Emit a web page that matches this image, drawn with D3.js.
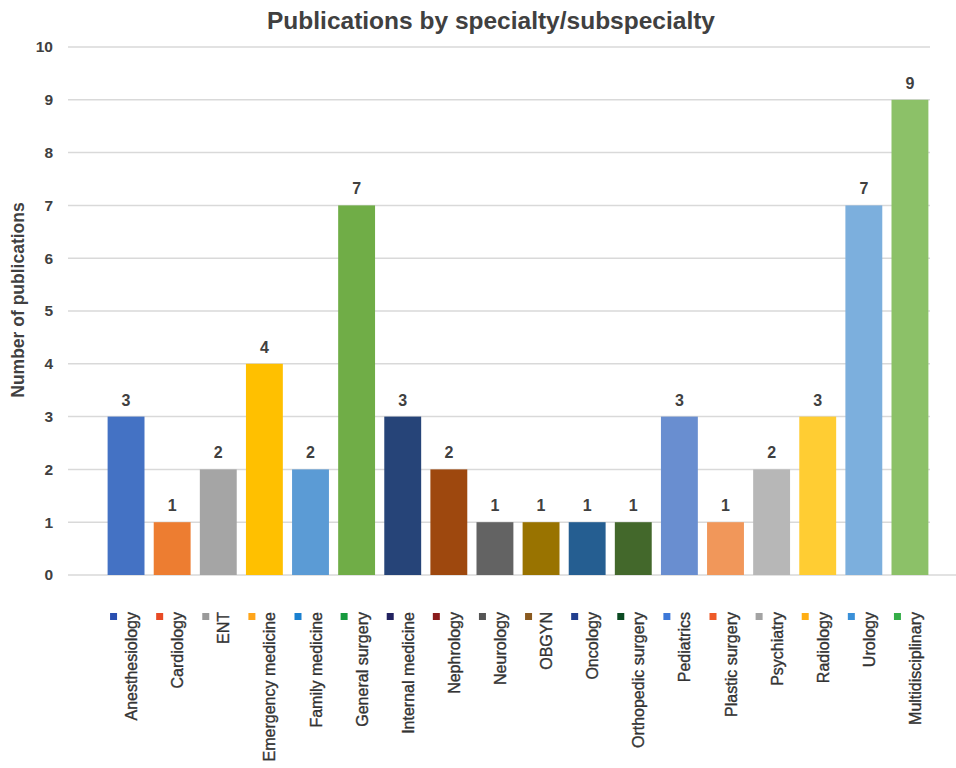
<!DOCTYPE html>
<html>
<head>
<meta charset="utf-8">
<script src="https://cdn.jsdelivr.net/npm/d3@7"></script>
<style>
  html, body { margin: 0; padding: 0; background: #ffffff; }
  svg { display: block; font-family: "Liberation Sans", Arial, Helvetica, sans-serif; }
</style>
</head>
<body>
<svg id="chart" width="956" height="768"></svg>
<script>
// Publications per specialty / subspecialty
const categories = [
  "Anesthesiology", "Cardiology", "ENT", "Emergency medicine", "Family medicine",
  "General surgery", "Internal medicine", "Nephrology", "Neurology", "OBGYN",
  "Oncology", "Orthopedic surgery", "Pediatrics", "Plastic surgery", "Psychiatry",
  "Radiology", "Urology", "Multidisciplinary"
];
const values = [3, 1, 2, 4, 2, 7, 3, 2, 1, 1, 1, 1, 3, 1, 2, 3, 7, 9];
const barColors = [
  "#4472C4", "#ED7D31", "#A5A5A5", "#FFC000", "#5B9BD5", "#70AD47",
  "#264478", "#9E480E", "#636363", "#997300", "#255E91", "#43682B",
  "#698ED0", "#F1975A", "#B7B7B7", "#FFCD33", "#7CAFDD", "#8CC168"
];
const legendColors = [
  "#2A4FB0", "#E84A25", "#9A9A9A", "#FFA51A", "#1A80D0", "#169A3E",
  "#222260", "#8A1C1C", "#555555", "#8A5A20", "#213F8E", "#0B4A22",
  "#3D78D8", "#EE5A28", "#A3A3A3", "#FFAE14", "#3A90D8", "#35AE48"
];
const yTicks = [0, 1, 2, 3, 4, 5, 6, 7, 8, 9, 10];
const titleText = "Publications by specialty/subspecialty";
const yAxisTitle = "Number of publications";

const svg = d3.select("#chart");

const x = d3.scaleBand()
  .domain(categories)
  .range([103, 933])
  .paddingInner(0.2)
  .paddingOuter(0.1);

const y = d3.scaleLinear().domain([0, 10]).range([575, 47]);

// Horizontal gridlines
svg.append("g")
  .selectAll("line")
  .data(yTicks)
  .join("line")
  .attr("x1", 68)
  .attr("x2", d => d === 0 ? 956 : 930)
  .attr("y1", d => y(d))
  .attr("y2", d => y(d))
  .attr("stroke", "#d9d9d9")
  .attr("stroke-width", 1.5);

// Y axis tick labels (axis line and ticks hidden)
const yAxis = d3.axisLeft(y).tickValues(yTicks).tickSize(0).tickPadding(0);
const yg = svg.append("g").attr("transform", "translate(53,0)").call(yAxis);
yg.select(".domain").remove();
yg.selectAll("text")
  .attr("font-size", 15.5)
  .attr("font-weight", "bold")
  .attr("fill", "#404040")
  .attr("font-family", "'Liberation Sans', Arial, sans-serif");

// Bars
svg.append("g")
  .selectAll("rect")
  .data(categories)
  .join("rect")
  .attr("x", d => x(d))
  .attr("y", (d, i) => y(values[i]))
  .attr("width", x.bandwidth())
  .attr("height", (d, i) => y(0) - y(values[i]))
  .attr("fill", (d, i) => barColors[i]);

// Value labels
svg.append("g")
  .selectAll("text")
  .data(categories)
  .join("text")
  .attr("x", d => x(d) + x.bandwidth() / 2)
  .attr("y", (d, i) => y(values[i]) - 11)
  .attr("text-anchor", "middle")
  .attr("font-size", 16)
  .attr("font-weight", "bold")
  .attr("fill", "#404040")
  .text((d, i) => values[i]);

// Title
svg.append("text")
  .attr("x", 491)
  .attr("y", 29)
  .attr("text-anchor", "middle")
  .attr("font-size", 24.5)
  .attr("font-weight", "bold")
  .attr("fill", "#404040")
  .text(titleText);

// Y axis title
svg.append("text")
  .attr("transform", "translate(24,300) rotate(-90)")
  .attr("text-anchor", "middle")
  .attr("font-size", 17.5)
  .attr("font-weight", "bold")
  .attr("fill", "#404040")
  .text(yAxisTitle);

// Legend: a marker and a rotated label under each bar
const legend = svg.append("g")
  .selectAll("g")
  .data(categories)
  .join("g")
  .attr("transform", d => `translate(${x(d) + x.bandwidth() / 2},0)`);

legend.append("rect")
  .attr("x", -16)
  .attr("y", 613)
  .attr("width", 7)
  .attr("height", 7)
  .attr("fill", (d, i) => legendColors[i]);

legend.append("text")
  .attr("transform", "translate(11,612) rotate(-90)")
  .attr("text-anchor", "end")
  .attr("font-size", 16)
  .attr("fill", "#333333")
  .attr("stroke", "#333333")
  .attr("stroke-width", 0.35)
  .text(d => d);
</script>
</body>
</html>
